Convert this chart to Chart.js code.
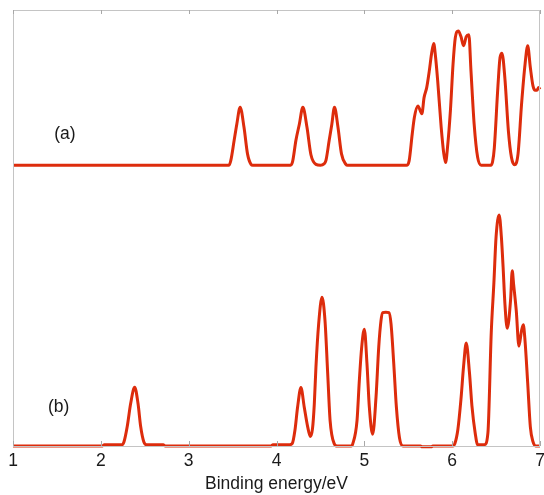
<!DOCTYPE html>
<html>
<head>
<meta charset="utf-8">
<script src="https://cdn.jsdelivr.net/npm/chart.js@4.4.1/dist/chart.umd.min.js"></script>
<style>
  html, body { margin: 0; padding: 0; background: #ffffff; overflow: hidden; }
  #wrap { width: 544px; height: 495px; position: relative; }
  canvas { display: block; }
</style>
</head>
<body>
<div id="wrap"><canvas id="c"></canvas></div>
<script>
// ---- data ----
const xTicks = [1, 2, 3, 4, 5, 6, 7];
const xTitle = 'Binding energy/eV';
const seriesLabels = ['(a)', '(b)'];

// spectrum (a): binding energy (eV) and intensity above its own baseline
const energyA = [1.00, 3.46, 3.48, 3.518, 3.548, 3.586, 3.63, 3.67, 3.71, 3.73,
  4.16, 4.183, 4.221, 4.26, 4.30, 4.347, 4.392, 4.449, 4.50, 4.54, 4.563, 4.60, 4.63, 4.66, 4.70, 4.74, 4.79, 4.81,
  5.48, 5.51, 5.545, 5.57, 5.61, 5.655, 5.68, 5.71, 5.74, 5.765, 5.79, 5.81, 5.835, 5.875, 5.905, 5.925,
  5.947, 5.98, 6.01, 6.036, 6.07, 6.10, 6.13, 6.16, 6.19, 6.214, 6.25, 6.29, 6.33,
  6.44, 6.46, 6.48, 6.52, 6.545, 6.567, 6.60, 6.64, 6.675, 6.71,
  6.75, 6.79, 6.83, 6.86, 6.89, 6.92, 6.945, 6.965, 6.985, 7.00];
const intensityA = [0, 0, 1.1, 5.7, 9.4, 13.3, 8.7, 2.6, 0.2, 0,
  0, 0.8, 5.7, 9.4, 13.3, 8.7, 2.4, 0.2, 0, 0.3, 1.1, 5.7, 9.4, 13.3, 8.7, 2.6, 0.2, 0,
  0, 1, 7.1, 11, 13.6, 11.8, 15.5, 17.8, 21.7, 25.5, 27.9, 25, 19.4, 8.7, 2.6, 0.6,
  4.1, 12.5, 23.2, 29.3, 30.8, 29.5, 27.4, 29.5, 29.9, 21.7, 9.5, 1.8, 0,
  0, 0.8, 4, 17.8, 24.7, 25.7, 20, 7.9, 1.8, 0.1,
  2.6, 14, 23.2, 27.4, 22.4, 18.2, 17.2, 17.2, 17.8, 17.4];
const offsetA = 64.4;

// spectrum (b)
const energyB = [1.00, 2.02, 2.04, 2.24, 2.263, 2.30, 2.34, 2.385, 2.423, 2.454, 2.49, 2.52, 2.71, 2.73,
  3.94, 3.96, 4.15, 4.18, 4.21, 4.24, 4.278, 4.316, 4.355, 4.385, 4.41, 4.43, 4.449, 4.48, 4.518,
  4.552, 4.583, 4.61, 4.658, 4.69, 4.85, 4.868, 4.917, 4.943, 4.97, 5.00, 5.03, 5.057, 5.095,
  5.133, 5.164, 5.19, 5.21, 5.245, 5.28, 5.304, 5.335, 5.365, 5.40, 5.44,
  5.64, 5.66, 5.76, 5.78, 6.01, 6.03, 6.065, 6.10, 6.13, 6.16, 6.197, 6.225, 6.262, 6.29,
  6.368, 6.407, 6.445, 6.475, 6.50, 6.535, 6.56, 6.58, 6.60, 6.627, 6.665, 6.684, 6.70,
  6.73, 6.76, 6.79, 6.81, 6.83, 6.86, 6.89, 6.92, 6.95, 7.00];
const intensityB = [0, 0, 0.3, 0.3, 0.9, 4.4, 9.8, 13.5, 9.8, 4.4, 0.9, 0.3, 0.3, 0,
  0, 0.3, 0.3, 0.6, 3.6, 8.9, 13.4, 8.9, 4.4, 2.2, 4, 9.5, 18.1, 28, 34.1,
  28.8, 16.6, 5.9, 0.5, 0, 0, 0.5, 5.9, 15, 22.7, 26.8, 18.9, 8.9, 2.7,
  11.2, 22.7, 28.8, 30.6, 30.7, 30.6, 28, 18.9, 8.9, 1.9, 0,
  0, -0.2, -0.2, 0, 0, 0.5, 3.8, 10.7, 18.3, 23.6, 16.8, 9.2, 3, 0.3,
  0.3, 3, 26, 37.4, 48, 53, 48, 41, 32.8, 27, 33.5, 40.2, 37,
  31, 22.9, 26.5, 27.8, 24, 14.4, 4.4, 1, 0, 0];
const offsetB = 0;

// label anchor positions in data units
const labelPosA = [1.59, 71.6];
const labelPosB = [1.52, 8.9];

// ---- build ----
const lineColor = '#dd2c0c';
const fontFamily = '"Liberation Sans", Arial, sans-serif';
const fontSize = 17.5;
const ptsA = energyA.map((e, i) => ({ x: e, y: intensityA[i] + offsetA }));
const ptsB = energyB.map((e, i) => ({ x: e, y: intensityB[i] + offsetB }));

const framePlugin = {
  id: 'frame',
  afterDraw(chart) {
    const { ctx, chartArea: a, scales } = chart;
    ctx.save();
    ctx.strokeStyle = '#c4c4c4';
    ctx.lineWidth = 1;
    ctx.strokeRect(Math.round(a.left) + 0.5, Math.round(a.top) + 0.5,
      Math.round(a.right - a.left) - 1, Math.round(a.bottom - a.top));
    ctx.strokeStyle = '#a8a8a8';
    ctx.beginPath();
    xTicks.forEach(t => {
      const px = Math.round(scales.x.getPixelForValue(t)) + 0.5;
      ctx.moveTo(px, a.top); ctx.lineTo(px, a.top + 4);
      ctx.moveTo(px, a.bottom); ctx.lineTo(px, a.bottom - 5);
    });
    ctx.stroke();
    ctx.fillStyle = '#1a1a1a';
    ctx.font = fontSize + 'px ' + fontFamily;
    ctx.textAlign = 'center';
    ctx.textBaseline = 'middle';
    [[seriesLabels[0], labelPosA], [seriesLabels[1], labelPosB]].forEach(([txt, p]) => {
      ctx.fillText(txt, scales.x.getPixelForValue(p[0]), scales.y.getPixelForValue(p[1]));
    });
    ctx.restore();
  }
};

new Chart(document.getElementById('c'), {
  type: 'line',
  data: {
    datasets: [
      { data: ptsA, borderColor: lineColor, borderWidth: 3, pointRadius: 0, cubicInterpolationMode: 'monotone', fill: false, clip: false },
      { data: ptsB, borderColor: lineColor, borderWidth: 3, pointRadius: 0, cubicInterpolationMode: 'monotone', fill: false, clip: false }
    ]
  },
  options: {
    responsive: true,
    maintainAspectRatio: false,
    animation: false,
    devicePixelRatio: 1,
    layout: { padding: { left: 13, right: 4, top: 10, bottom: 0 } },
    plugins: { legend: { display: false }, tooltip: { enabled: false } },
    scales: {
      x: {
        type: 'linear', min: 1, max: 7,
        afterBuildTicks: (s) => { s.ticks = xTicks.map(v => ({ value: v })); },
        afterFit: (s) => { s.height = 49; s.paddingLeft = 0; s.paddingRight = 0; },
        ticks: { font: { family: fontFamily, size: fontSize }, color: '#1a1a1a', padding: 5, maxRotation: 0 },
        grid: { display: false, drawTicks: false },
        border: { display: false },
        title: { display: true, text: xTitle, font: { family: fontFamily, size: fontSize }, color: '#1a1a1a', padding: { top: 0, bottom: 0 } }
      },
      y: { display: false, min: 0, max: 100 }
    }
  },
  plugins: [framePlugin]
});
</script>
</body>
</html>
